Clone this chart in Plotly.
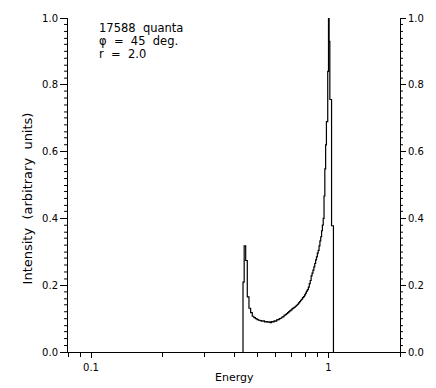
import plotly.graph_objects as go

# Histogram bin left edges (energy) and intensities
energy_edges = [
    0.4365, 0.4415, 0.448, 0.455, 0.4625, 0.470, 0.4775, 0.485, 0.4925, 0.500,
    0.5075, 0.515, 0.5225, 0.530, 0.5375, 0.545, 0.5525, 0.560, 0.5675, 0.575,
    0.5825, 0.590, 0.5975, 0.605, 0.6125, 0.620, 0.6275, 0.635, 0.6425, 0.650,
    0.6575, 0.665, 0.6725, 0.680, 0.6875, 0.695, 0.7025, 0.710, 0.7175, 0.725,
    0.7325, 0.740, 0.7475, 0.755, 0.7625, 0.770, 0.7775, 0.785, 0.7925, 0.800,
    0.8075, 0.815, 0.8225, 0.830, 0.8375, 0.845, 0.8525, 0.860, 0.8675, 0.875,
    0.8825, 0.890, 0.8975, 0.905, 0.9125, 0.920, 0.9275, 0.935, 0.9425, 0.950,
    0.9575, 0.965, 0.9725, 0.980, 0.9925, 1.000, 1.006, 1.013, 1.030,
]
intensity = [
    0.209, 0.318, 0.274, 0.165, 0.131, 0.118, 0.107, 0.103, 0.100, 0.097,
    0.095, 0.094, 0.092, 0.093, 0.090, 0.091, 0.089, 0.090, 0.088, 0.091,
    0.090, 0.093, 0.092, 0.096, 0.097, 0.100, 0.101, 0.104, 0.106, 0.110,
    0.112, 0.115, 0.118, 0.121, 0.124, 0.126, 0.130, 0.132, 0.134, 0.137,
    0.140, 0.143, 0.147, 0.151, 0.155, 0.158, 0.163, 0.166, 0.171, 0.176,
    0.182, 0.187, 0.194, 0.205, 0.214, 0.228, 0.236, 0.245, 0.255, 0.265,
    0.276, 0.285, 0.296, 0.304, 0.318, 0.333, 0.345, 0.363, 0.380, 0.400,
    0.467, 0.548, 0.620, 0.690, 0.840, 1.000, 0.930, 0.756, 0.378,
]
energy_end = 1.049

x_tick_vals = [0.1, 1]
x_tick_text = ["0.1", "1"]
x_minor_vals = [0.08, 0.09, 0.2, 0.3, 0.4, 0.5, 0.6, 0.7, 0.8, 0.9, 2]
y_major_vals = [0.0, 0.2, 0.4, 0.6, 0.8, 1.0]
y_minor_vals = [round(i * 0.02, 2) for i in range(51) if i % 10 != 0]

info_lines = ["17588  quanta", "φ  =  45  deg.", "r  =  2.0"]

xs = [energy_edges[0]] + energy_edges + [energy_end]
ys = [0] + intensity + [0]

FONT = "DejaVu Sans"
XR = [-1.09691, 0.30103]
YR = [0, 1]
M_L, M_R, M_T, M_B = 68, 32, 16, 36
W, H = 436, 388
PLOT_W = W - M_L - M_R
PLOT_H = H - M_T - M_B

fig = go.Figure()
fig.add_trace(go.Scatter(x=xs, y=ys, mode="lines", line=dict(color="black", width=1.2, shape="hv"),
                         showlegend=False, hoverinfo="skip", cliponaxis=False))
fig.add_trace(go.Scatter(x=[None], y=[None], xaxis="x", yaxis="y2", showlegend=False))
fig.add_trace(go.Scatter(x=[None], y=[None], xaxis="x2", yaxis="y", showlegend=False))

common_y = dict(range=YR, showgrid=False, zeroline=False, tickcolor="black", fixedrange=True)

fig.update_layout(
    width=W, height=H,
    margin=dict(l=M_L, r=M_R, t=M_T, b=M_B),
    paper_bgcolor="white", plot_bgcolor="white",
    font=dict(family=FONT, size=10, color="black"),
    xaxis=dict(type="log", range=XR, showline=True, linecolor="black", linewidth=1,
               ticks="outside", ticklen=5, tickcolor="black", tickvals=x_tick_vals, ticktext=x_tick_text,
               showgrid=False, zeroline=False, ticklabelstandoff=1),
    xaxis2=dict(type="log", range=XR, overlaying="x", anchor="y", side="bottom", showline=False,
                ticks="outside", ticklen=4, tickcolor="black", tickvals=x_minor_vals,
                showticklabels=False, showgrid=False, zeroline=False),
    yaxis=dict(**common_y, showline=True, linecolor="black", linewidth=1, ticks="outside", ticklen=7,
               tickvals=y_major_vals, tickformat=".1f"),
    yaxis2=dict(**common_y, overlaying="y", side="right", anchor="x", showline=True, linecolor="black",
                linewidth=1, ticks="outside", ticklen=5, tickvals=y_major_vals, tickformat=".1f"),
)

# minor y ticks drawn as shapes, snapped to whole pixels (paper coords)
for v in y_minor_vals:
    py = M_T + (1 - (v - YR[0]) / (YR[1] - YR[0])) * PLOT_H
    py = int(py) + 0.5
    yp = 1 - (py - M_T) / PLOT_H
    fig.add_shape(type="line", xref="paper", yref="paper", x0=0, x1=-4 / PLOT_W, y0=yp, y1=yp,
                  line=dict(color="black", width=1))
    fig.add_shape(type="line", xref="paper", yref="paper", x0=1, x1=1 + 3 / PLOT_W, y0=yp, y1=yp,
                  line=dict(color="black", width=1))

# axis titles
fig.add_annotation(xref="paper", yref="paper", x=0.5, y=-0.075, xanchor="center", yanchor="middle",
                   showarrow=False, text="Energy", font=dict(size=11))
fig.add_annotation(xref="paper", yref="paper", x=-0.122, y=(352 - 197) / 336, xanchor="center",
                   yanchor="middle", showarrow=False, text="Intensity  (arbitrary  units)",
                   textangle=-90, font=dict(size=13))

# info text, one annotation per line
line_y_px = [26.5, 39.5, 52.5]
for txt, ypx in zip(info_lines, line_y_px):
    fig.add_annotation(xref="paper", yref="paper", x=(97 - 68) / 336, y=(352 - ypx) / 336,
                       xanchor="left", yanchor="middle", showarrow=False, text=txt,
                       font=dict(family=FONT, size=11.5))

fig.write_html("out.html")
